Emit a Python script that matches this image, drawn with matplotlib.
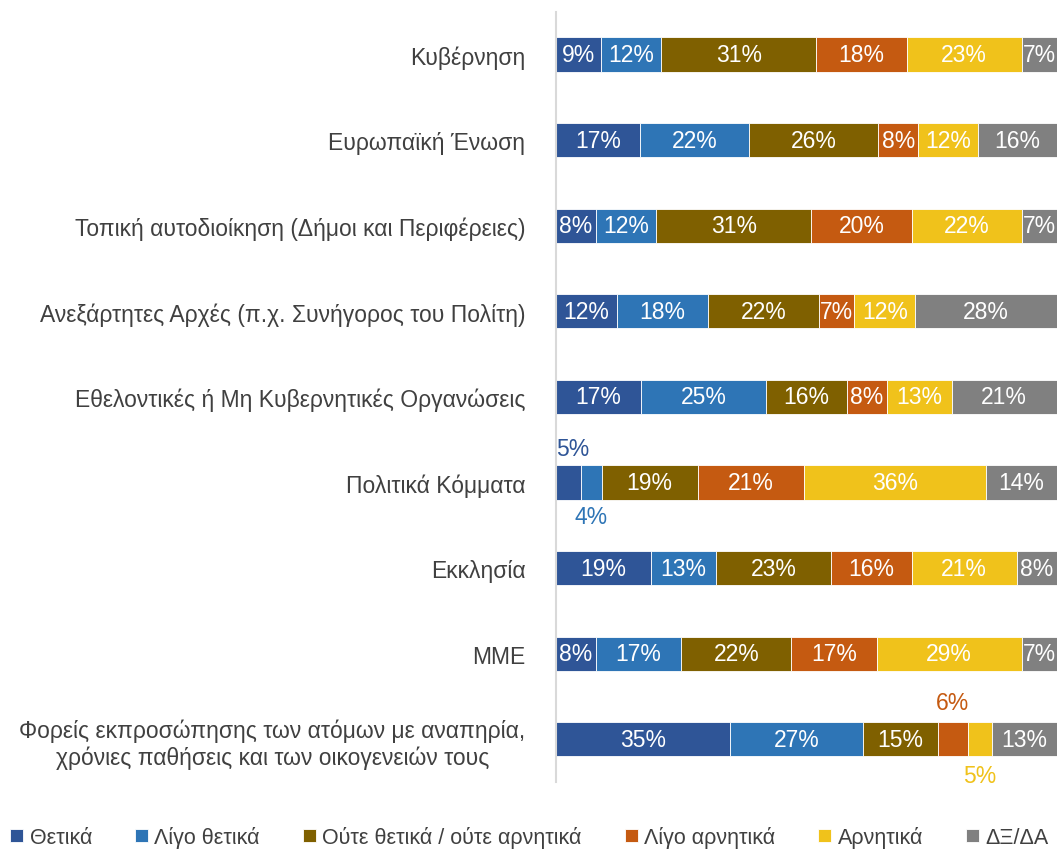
import matplotlib.pyplot as plt
import numpy as np

plt.rcParams['font.family'] = ['Liberation Sans', 'DejaVu Sans']

categories = ["Κυβέρνηση",
              "Ευρωπαϊκή Ένωση",
              "Τοπική αυτοδιοίκηση (Δήμοι και Περιφέρειες)",
              "Ανεξάρτητες Αρχές (π.χ. Συνήγορος του Πολίτη)",
              "Εθελοντικές ή Μη Κυβερνητικές Οργανώσεις",
              "Πολιτικά Κόμματα",
              "Εκκλησία",
              "ΜΜΕ",
              "Φορείς εκπροσώπησης των ατόμων με αναπηρία,\nχρόνιες παθήσεις και των οικογενειών τους"]
series = ["Θετικά", "Λίγο θετικά", "Ούτε θετικά / ούτε αρνητικά", "Λίγο αρνητικά", "Αρνητικά", "ΔΞ/ΔΑ"]
thetika = [9, 17, 8, 12, 17, 5, 19, 8, 35]
ligo_thetika = [12, 22, 12, 18, 25, 4, 13, 17, 27]
oute = [31, 26, 31, 22, 16, 19, 23, 22, 15]
ligo_arnitika = [18, 8, 20, 7, 8, 21, 16, 17, 6]
arnitika = [23, 12, 22, 12, 13, 36, 21, 29, 5]
dxda = [7, 16, 7, 28, 21, 14, 8, 7, 13]
colors = ["#2F5597", "#2E75B6", "#7F6000", "#C55A11", "#F0C21B", "#808080"]

values = np.array([thetika, ligo_thetika, oute, ligo_arnitika, arnitika, dxda], dtype=float)
# bars are drawn as share of the row total so all end at 100%
shares = values / values.sum(axis=0) * 100

fig = plt.figure(figsize=(10.59, 8.53), dpi=100)
ax = fig.add_axes([0.525, 0.082, 0.473, 0.903])

fs = 16.5
y = np.arange(len(categories))
left = np.zeros(len(categories))
for i, name in enumerate(series):
    ax.barh(y, shares[i], left=left, height=0.4, color=colors[i],
            edgecolor="white", linewidth=0.6, label=name)
    for j in range(len(categories)):
        v = int(values[i, j])
        cx = left[j] + shares[i, j] / 2
        if v <= 6:
            # small segments get their label outside the bar
            if j == 5 and i == 0:
                ax.text(left[j], y[j] - 0.4, f"{v}%", ha="left", va="center",
                        fontsize=fs, color=colors[i])
            elif j == 5 and i == 1:
                ax.text(cx, y[j] + 0.4, f"{v}%", ha="center", va="center",
                        fontsize=fs, color=colors[i])
            elif j == 8 and i == 3:
                ax.text(cx, y[j] - 0.43, f"{v}%", ha="center", va="center",
                        fontsize=fs, color=colors[i])
            elif j == 8 and i == 4:
                ax.text(cx, y[j] + 0.42, f"{v}%", ha="center", va="center",
                        fontsize=fs, color=colors[i])
        else:
            ax.text(cx, y[j], f"{v}%", ha="center", va="center",
                    fontsize=fs, color="white")
    left += shares[i]

ax.set_xlim(0, 100)
ax.set_ylim(len(categories) - 0.5, -0.5)
ax.set_yticks(y)
ax.set_yticklabels(categories, fontsize=16.5, color="#404040", multialignment="center")
ax.tick_params(axis="y", length=0, pad=22)
ax.set_xticks([])
for s in ["top", "right", "bottom"]:
    ax.spines[s].set_visible(False)
ax.spines["left"].set_color("#D9D9D9")
ax.spines["left"].set_linewidth(1.5)

fig.legend(loc="lower center", bbox_to_anchor=(0.5, -0.018), ncol=6, frameon=False,
           fontsize=15.5, handlelength=0.6, handleheight=0.6, handletextpad=0.3,
           columnspacing=2.0, labelcolor="#404040")

fig.savefig("out.png", dpi=100)
